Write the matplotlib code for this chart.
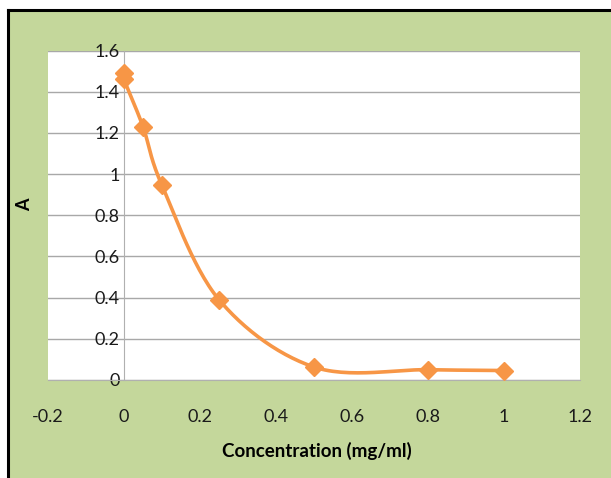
import matplotlib.pyplot as plt
from matplotlib.patches import Rectangle
import numpy as np

conc = [0, 0, 0.05, 0.1, 0.25, 0.5, 0.8, 1.0]
absorb = [1.49, 1.46, 1.23, 0.945, 0.39, 0.063, 0.05, 0.046]

xticks = [-0.2, 0, 0.2, 0.4, 0.6, 0.8, 1, 1.2]
yticks = [0, 0.2, 0.4, 0.6, 0.8, 1, 1.2, 1.4, 1.6]

orange = '#f79646'
green = '#c4d79b'


def smooth(x, y, n=30):
    # Excel-style smoothed line: cubic bezier with tangents from neighbours
    p = np.column_stack([x, y]).astype(float)
    pts = []
    for i in range(len(p) - 1):
        p0 = p[i - 1] if i > 0 else p[i]
        p1, p2 = p[i], p[i + 1]
        p3 = p[i + 2] if i + 2 < len(p) else p[i + 1]
        c1 = p1 + (p2 - p0) / 6
        c2 = p2 - (p3 - p1) / 6
        t = np.linspace(0, 1, n)[:, None]
        seg = (1-t)**3*p1 + 3*(1-t)**2*t*c1 + 3*(1-t)*t**2*c2 + t**3*p2
        pts.append(seg)
    pts = np.vstack(pts)
    return pts[:, 0], pts[:, 1]


plt.rcParams['font.family'] = ['Lato', 'DejaVu Sans']

fig = plt.figure(figsize=(6.11, 4.78), dpi=100)
fig.patch.set_facecolor('white')
W, H = 611, 478
# green chart area with black frame on top/left
fig.patches.append(Rectangle((9/W, 0), 1, 1 - 11/H, transform=fig.transFigure,
                             facecolor=green, edgecolor='none', zorder=-5))
fig.lines.append(plt.Line2D([8/W, 8/W], [0, 1 - 10/H], transform=fig.transFigure,
                            color='black', lw=2.2, zorder=-4))
fig.lines.append(plt.Line2D([8/W, 1], [1 - 10/H, 1 - 10/H], transform=fig.transFigure,
                            color='black', lw=2.2, zorder=-4))

ax = fig.add_axes([48/W, 1 - 380/H, (580 - 48)/W, (380 - 50.5)/H])
ax.set_facecolor('white')
ax.set_xlim(-0.2, 1.2)
ax.set_ylim(0, 1.6)
ax.set_xticks(xticks)
ax.set_yticks(yticks)
ax.set_xticklabels(['-0.2', '0', '0.2', '0.4', '0.6', '0.8', '1', '1.2'])
ax.set_yticklabels(['0', '0.2', '0.4', '0.6', '0.8', '1', '1.2', '1.4', '1.6'])

for s in ['top', 'right']:
    ax.spines[s].set_visible(False)
ax.spines['left'].set_position(('data', 0))
ax.spines['left'].set_color('#b0b0b0')
ax.spines['bottom'].set_color('#b0b0b0')
ax.yaxis.grid(True, color='#a8a8a8', lw=1)
ax.set_axisbelow(True)
ax.tick_params(axis='y', length=0, pad=3, labelsize=13, colors='#1a1a1a')
ax.tick_params(axis='x', length=0, pad=21, labelsize=13, colors='#1a1a1a')

sx, sy = smooth(conc, absorb)
ax.plot(sx, sy, color=orange, lw=2.6, zorder=3, clip_on=False)
ax.plot(conc, absorb, linestyle='none', marker='D', color=orange,
        markersize=9.5, zorder=4, clip_on=False)

fig.text(25/W, 1 - 205/H, 'A', rotation=90, fontsize=13, fontweight='bold',
         ha='center', va='center')
fig.text(317/W, 1 - 451/H, 'Concentration (mg/ml)', fontsize=13.5,
         fontweight='bold', ha='center', va='center')

fig.savefig('out.png', dpi=100)
